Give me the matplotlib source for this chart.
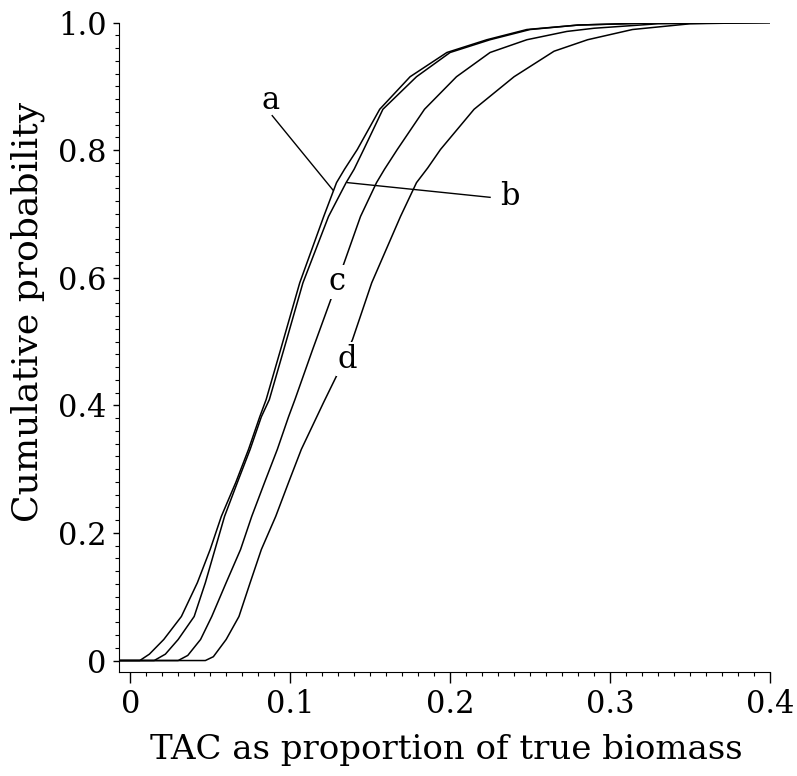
import matplotlib
matplotlib.use("Agg")
import matplotlib.pyplot as plt
from matplotlib.ticker import MultipleLocator, FuncFormatter

plt.rcParams['font.family'] = ['DejaVu Serif']

# curves: TAC proportion (x) vs cumulative probability (y)
a_x = [-0.007, 0.006, 0.012, 0.021, 0.032, 0.042, 0.050, 0.057, 0.066, 0.074, 0.081, 0.085,
       0.094, 0.106, 0.121, 0.129, 0.134, 0.142, 0.156, 0.175, 0.198, 0.223, 0.248, 0.280, 0.336, 0.400]
a_y = [0.0, 0.0, 0.010, 0.033, 0.069, 0.122, 0.174, 0.226, 0.279, 0.331, 0.382, 0.409,
       0.487, 0.592, 0.696, 0.749, 0.770, 0.801, 0.864, 0.915, 0.953, 0.973, 0.989, 0.996, 1.0, 1.0]

b_x = [-0.007, 0.015, 0.022, 0.030, 0.040, 0.047, 0.053, 0.059, 0.067, 0.075, 0.082, 0.087,
       0.096, 0.108, 0.124, 0.135, 0.140, 0.146, 0.158, 0.179, 0.200, 0.225, 0.250, 0.280, 0.336, 0.400]
b_y = [0.0, 0.0, 0.010, 0.033, 0.069, 0.122, 0.174, 0.226, 0.279, 0.331, 0.382, 0.409,
       0.487, 0.592, 0.696, 0.749, 0.770, 0.801, 0.864, 0.915, 0.953, 0.973, 0.989, 0.996, 1.0, 1.0]

c_x = [-0.007, 0.030, 0.036, 0.044, 0.051, 0.060, 0.069, 0.076, 0.084, 0.092, 0.099, 0.103,
       0.114, 0.133, 0.144, 0.154, 0.159, 0.167, 0.184, 0.204, 0.225, 0.248, 0.273, 0.290, 0.330, 0.400]
c_y = [0.0, 0.0, 0.008, 0.033, 0.069, 0.122, 0.174, 0.226, 0.279, 0.331, 0.382, 0.409,
       0.487, 0.618, 0.696, 0.749, 0.770, 0.801, 0.864, 0.915, 0.953, 0.973, 0.986, 0.991, 0.998, 1.0]

d_x = [-0.007, 0.047, 0.052, 0.060, 0.068, 0.075, 0.082, 0.091, 0.099, 0.107, 0.114, 0.121,
       0.129, 0.139, 0.151, 0.169, 0.179, 0.186, 0.194, 0.215, 0.240, 0.265, 0.286, 0.314, 0.350, 0.400]
d_y = [0.0, 0.0, 0.006, 0.033, 0.069, 0.122, 0.174, 0.226, 0.279, 0.331, 0.368, 0.405,
       0.446, 0.503, 0.592, 0.696, 0.749, 0.772, 0.801, 0.864, 0.915, 0.955, 0.973, 0.989, 0.998, 1.0]

xticks = [0, 0.1, 0.2, 0.3, 0.4]
yticks = [0, 0.2, 0.4, 0.6, 0.8, 1.0]

fig = plt.figure(figsize=(7.97, 7.76), dpi=100)
ax = fig.add_axes([0.1493, 0.134, 0.8168, 0.837])

for xs, ys in [(a_x, a_y), (b_x, b_y), (c_x, c_y), (d_x, d_y)]:
    ax.plot(xs, ys, color='black', lw=1.1)

# labels with leader lines
ax.plot([0.0888, 0.1269], [0.854, 0.737], color='black', lw=1.0)
ax.plot([0.136, 0.225], [0.749, 0.726], color='black', lw=1.0)
ax.text(0.0875, 0.877, 'a', fontsize=22, ha='center', va='center')
ax.text(0.2375, 0.728, 'b', fontsize=22, ha='center', va='center')
box = dict(facecolor='white', edgecolor='none', pad=1)
ax.text(0.129, 0.594, 'c', fontsize=22, ha='center', va='center', bbox=box)
ax.text(0.136, 0.472, 'd', fontsize=22, ha='center', va='center', bbox=box)

ax.set_xlim(-0.007, 0.4)
ax.set_ylim(-0.018, 1.0)
ax.spines['top'].set_visible(False)
ax.spines['right'].set_visible(False)
ax.set_xticks(xticks)
ax.set_yticks(yticks)
ax.xaxis.set_minor_locator(MultipleLocator(0.01))
ax.yaxis.set_minor_locator(MultipleLocator(0.02))
fmt = FuncFormatter(lambda v, p: '0' if abs(v) < 1e-9 else f'{v:.1f}')
ax.xaxis.set_major_formatter(fmt)
ax.yaxis.set_major_formatter(fmt)
ax.tick_params(which='major', direction='out', length=7, width=1.0, labelsize=22)
ax.tick_params(axis='x', which='major', length=8, pad=4)
ax.tick_params(axis='y', which='major', length=4, pad=5)
ax.tick_params(which='minor', direction='out', length=3, width=0.8)

fig.text(446 / 797, 1 - 750 / 776, 'TAC as proportion of true biomass',
         fontsize=24.5, ha='center', va='center')
fig.text(28 / 797, 1 - 312 / 776, 'Cumulative probability',
         fontsize=26, ha='center', va='center', rotation=90)

fig.savefig('out.png', dpi=100)
